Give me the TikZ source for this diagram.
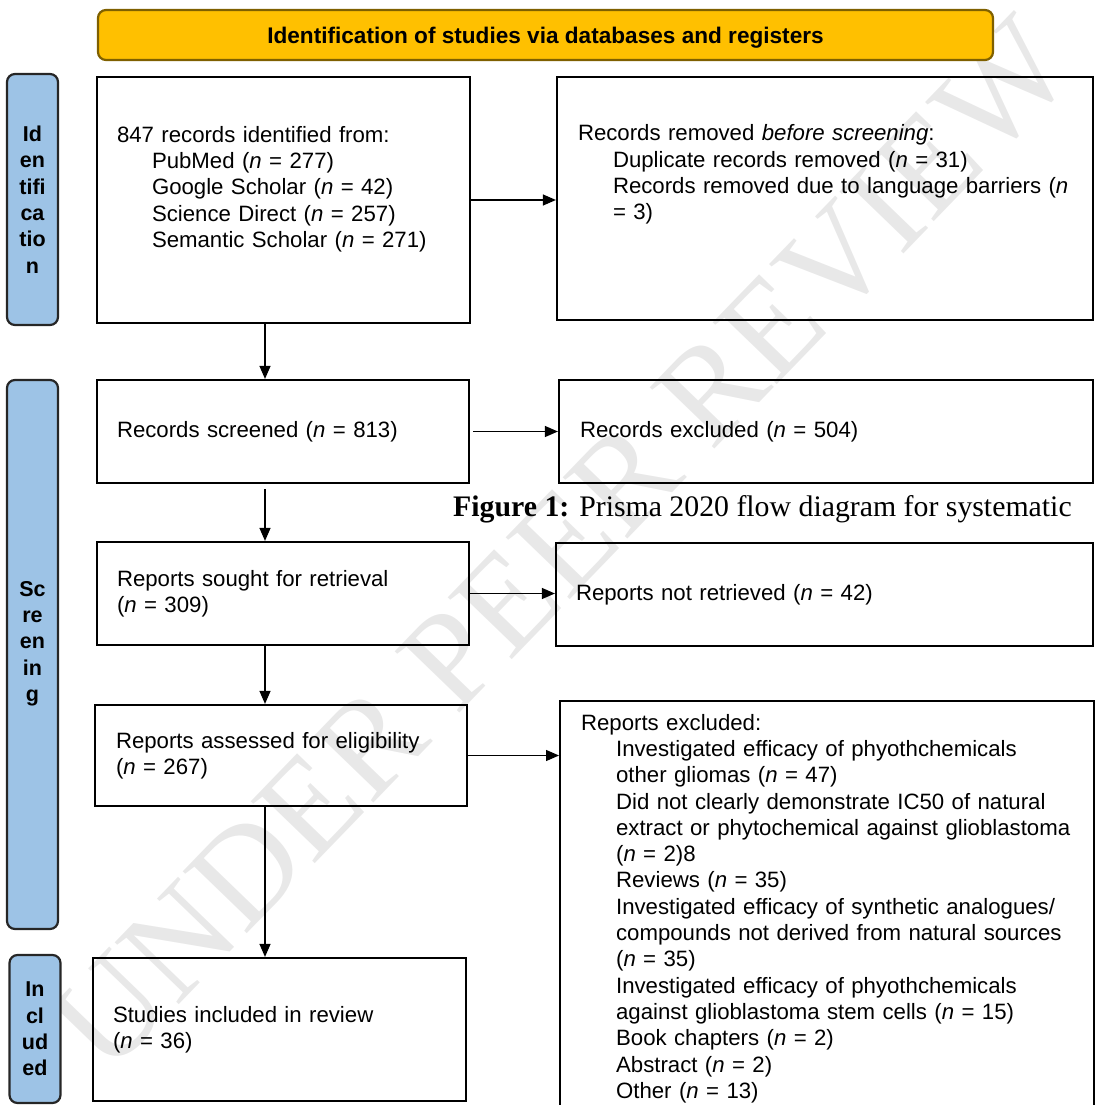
\documentclass[tikz,border=0pt]{standalone}
\usepackage{fontspec}
\setmainfont{Liberation Sans}
\newfontfamily\captionfont{Liberation Serif}
\usepackage{xcolor}
\usetikzlibrary{arrows.meta}

\definecolor{headgold}{HTML}{FFC000}
\definecolor{headedge}{HTML}{7F6000}
\definecolor{phaseblue}{HTML}{9DC3E6}

\begin{document}
\begin{tikzpicture}[x=1pt, y=-1pt,
  box/.style={draw, rectangle, line width=2.2pt, align=left, inner sep=0pt,
    font=\fontsize{22.2}{26.3}\selectfont},
  phase/.style={draw=black!85, fill=phaseblue, rounded corners=8pt, line width=2.2pt,
    align=center, inner sep=0pt, minimum width=51, font=\bfseries\fontsize{21.5}{26.3}\selectfont},
  arrow/.style={-{Triangle[length=13pt, width=11pt]}, line width=1.2pt}]
\useasboundingbox (0,0) rectangle (1097,1105);

% watermark
\node[rotate=46, text=black!9, font=\captionfont\fontsize{136}{136}\selectfont] at (562,545) (stamp) {UNDER PEER REVIEW};

% header
\node[draw=headedge, fill=headgold, rounded corners=8pt, line width=2.2pt, minimum width=895, minimum height=50,
  text depth=0pt, font=\bfseries\fontsize{22.6}{26}\selectfont] at (545.5,35) (head) {Identification of studies via databases and registers};

% phase labels
\node[phase, minimum height=251] at (32.5,199.5) (idlab) {Id\\en\\tifi\\ca\\tio\\n};
\node[phase, minimum height=549] at (32.5,654.5) (scrlab) {Sc\\re\\en\\in\\g\\~};
\node[phase, minimum height=148] at (35,1029) (inclab) {In\\cl\\ud\\ed};

% left column
\node[box, minimum width=373, minimum height=246, text width=333] at (283.5,200) (ident) {847 records identified from:\\
\hspace*{35pt}PubMed (\textit{n} = 277)\\
\hspace*{35pt}Google Scholar (\textit{n} = 42)\\
\hspace*{35pt}Science Direct (\textit{n} = 257)\\
\hspace*{35pt}Semantic Scholar (\textit{n} = 271)\\~};
\node[box, minimum width=372, minimum height=103, text width=332] at (283,431.5) (screened) {Records screened (\textit{n} = 813)};
\node[box, minimum width=372, minimum height=103, text width=332] at (283,593.5) (sought) {Reports sought for retrieval\\(\textit{n} = 309)};
\node[box, minimum width=372, minimum height=101, text width=330] at (281,755.5) (assessed) {Reports assessed for eligibility\\(\textit{n} = 267)};
\node[box, minimum width=373, minimum height=143, text width=333] at (279.5,1029.5) (included) {Studies included in review\\(\textit{n} = 36)};

% right column
\node[box, minimum width=536, minimum height=243, text width=494] at (825,198.5) (removed) {Records removed \textit{before screening}:\\
\hspace*{35pt}Duplicate records removed (\textit{n} = 31)\\
\hspace*{35pt}Records removed due to language barriers (\textit{n}\\
\hspace*{35pt}= 3)\\~\\~};
\node[box, minimum width=534, minimum height=103, text width=492] at (826,431.5) (recexcl) {Records excluded (\textit{n} = 504)};
\node[box, minimum width=537, minimum height=103, text width=497] at (824.5,594.5) (notretr) {Reports not retrieved (\textit{n} = 42)};
\node[box, anchor=north west, minimum width=534, text width=492, inner ysep=13pt] at (559,700) (repexcl) {Reports excluded:\\
\hspace*{35pt}Investigated efficacy of phyothchemicals\\
\hspace*{35pt}other gliomas (\textit{n} = 47)\\
\hspace*{35pt}Did not clearly demonstrate IC50 of natural\\
\hspace*{35pt}extract or phytochemical against glioblastoma\\
\hspace*{35pt}(\textit{n} = 2)8\\
\hspace*{35pt}Reviews (\textit{n} = 35)\\
\hspace*{35pt}Investigated efficacy of synthetic analogues/\\
\hspace*{35pt}compounds not derived from natural sources\\
\hspace*{35pt}(\textit{n} = 35)\\
\hspace*{35pt}Investigated efficacy of phyothchemicals\\
\hspace*{35pt}against glioblastoma stem cells (\textit{n} = 15)\\
\hspace*{35pt}Book chapters (\textit{n} = 2)\\
\hspace*{35pt}Abstract (\textit{n} = 2)\\
\hspace*{35pt}Other (\textit{n} = 13)};

% caption
\node[anchor=west, inner sep=0pt, font=\captionfont\fontsize{29.8}{32}\selectfont] at (453,509) (caption) {\textbf{Figure 1:} Prisma 2020 flow diagram for systematic};

% connectors
\coordinate (spine) at (265,0);
\draw[arrow] (ident.south -| spine) -- (screened.north -| spine);
\draw[arrow, shorten <=5pt] (screened.south -| spine) -- (sought.north -| spine);
\draw[arrow] (sought.south -| spine) -- (assessed.north -| spine);
\draw[arrow] (assessed.south -| spine) -- (included.north -| spine);

\draw[arrow] (ident.east) -- (ident.east -| removed.west);
\draw[arrow, shorten <=3pt] (screened.east) -- (recexcl.west);
\draw[arrow] (sought.east) -- (sought.east -| notretr.west);
\draw[arrow] (assessed.east) -- (assessed.east -| repexcl.west);

\end{tikzpicture}
\end{document}
